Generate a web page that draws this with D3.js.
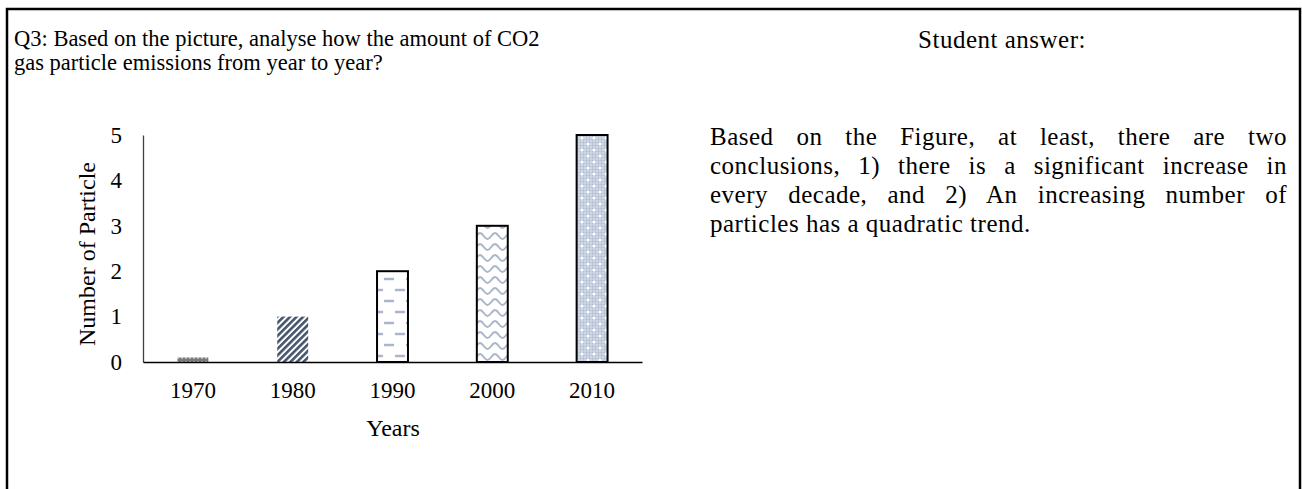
<!DOCTYPE html>
<html>
<head>
<meta charset="utf-8">
<script src="https://cdn.jsdelivr.net/npm/d3@7"></script>
<style>
  body { margin: 0; background: #fff; }
  svg { display: block; }
</style>
</head>
<body>
<svg id="viz"></svg>
<script>
// values
var years = ["1970", "1980", "1990", "2000", "2010"];
var particles = [0.1, 1, 2, 3, 5];
var yTicks = [0, 1, 2, 3, 4, 5];

var questionLines = [
    "Q3: Based on the picture, analyse how the amount of CO2",
    "gas particle emissions from year to year?"
];
var answerTitle = "Student answer:";
var answerLines = [
    "Based on the Figure, at least, there are two",
    "conclusions, 1) there is a significant increase in",
    "every decade, and 2) An increasing number of",
    "particles has a quadratic trend."
];

function generateVisualization() {
    var width = 1302;
    var height = 489;
    var textFont = "'Liberation Serif', 'Times New Roman', serif";
    var patternBlue = "#a9b5c8";

    var svg = d3.select("#viz")
        .attr("width", width)
        .attr("height", height);

    // table frame (bottom edge is cut off in the picture)
    svg.append("path")
        .attr("d", "M7," + height + " V9 H1300 V" + height)
        .attr("fill", "none")
        .attr("stroke", "#000")
        .attr("stroke-width", 2.5);

    // question text
    svg.append("g")
        .selectAll("text")
        .data(questionLines)
        .enter()
        .append("text")
        .attr("x", 14)
        .attr("y", (d, i) => 46 + i * 24)
        .attr("font-family", textFont)
        .attr("font-size", 22.5)
        .text(d => d);

    svg.append("text")
        .attr("x", 1002)
        .attr("y", 48)
        .attr("text-anchor", "middle")
        .attr("font-family", textFont)
        .attr("font-size", 25)
        .attr("letter-spacing", 0.5)
        .text(answerTitle);

    // justified answer paragraph: spread the words, not the letters
    var left = 710, right = 1287;
    svg.append("g")
        .selectAll("text")
        .data(answerLines)
        .enter()
        .append("text")
        .attr("x", left)
        .attr("y", (d, i) => 145 + i * 29)
        .attr("font-family", textFont)
        .attr("font-size", 25)
        .attr("letter-spacing", 0.5)
        .text(d => d)
        .each(function (d, i) {
            if (i === answerLines.length - 1) return;
            var gaps = d.split(" ").length - 1;
            var extra = (right - left) - this.getComputedTextLength();
            d3.select(this).attr("word-spacing", extra / gaps);
        });

    // ---- patterns for the bars ----
    var defs = svg.append("defs");

    // 1970: grey with light dots
    var p1 = defs.append("pattern").attr("id", "pat1970")
        .attr("patternUnits", "userSpaceOnUse").attr("width", 4).attr("height", 4);
    p1.append("rect").attr("width", 4).attr("height", 4).attr("fill", "#7a7a7a");
    p1.append("circle").attr("cx", 2).attr("cy", 2).attr("r", 0.9).attr("fill", "#cfcfcf");

    // 1980: dark diagonal stripes
    var p2 = defs.append("pattern").attr("id", "pat1980")
        .attr("patternUnits", "userSpaceOnUse").attr("width", 4.6).attr("height", 8)
        .attr("patternTransform", "rotate(45)");
    p2.append("rect").attr("width", 4.6).attr("height", 8).attr("fill", "#ffffff");
    p2.append("rect").attr("width", 2.6).attr("height", 8).attr("fill", "#44546a");

    // 1990: staggered short dashes
    var p3 = defs.append("pattern").attr("id", "pat1990")
        .attr("patternUnits", "userSpaceOnUse").attr("width", 22).attr("height", 22);
    p3.append("rect").attr("width", 22).attr("height", 22).attr("fill", "#ffffff");
    p3.append("line").attr("x1", 11).attr("x2", 19).attr("y1", 15).attr("y2", 15);
    p3.append("line").attr("x1", 22).attr("x2", 30).attr("y1", 4).attr("y2", 4);
    p3.append("line").attr("x1", 0).attr("x2", 8).attr("y1", 4).attr("y2", 4);
    p3.selectAll("line")
        .attr("stroke", patternBlue).attr("stroke-width", 2.4).attr("stroke-linecap", "round");

    // 2000: wavy lines
    var p4 = defs.append("pattern").attr("id", "pat2000")
        .attr("patternUnits", "userSpaceOnUse").attr("width", 15).attr("height", 11);
    p4.append("rect").attr("width", 15).attr("height", 11).attr("fill", "#ffffff");
    p4.append("path")
        .attr("d", "M0,2 C3,2 4.5,8 7.5,8 C10.5,8 12,2 15,2")
        .attr("fill", "none").attr("stroke", patternBlue).attr("stroke-width", 2);

    // 2010: fine dotted blue-grey with white sparkles
    var p5 = defs.append("pattern").attr("id", "pat2010")
        .attr("patternUnits", "userSpaceOnUse").attr("width", 12).attr("height", 12);
    p5.append("rect").attr("width", 12).attr("height", 12).attr("fill", "#d0d8e6");
    [1.5, 4.5, 7.5, 10.5].forEach(function (a) {
        [1.5, 4.5, 7.5, 10.5].forEach(function (b) {
            p5.append("circle").attr("cx", a).attr("cy", b).attr("r", 0.9).attr("fill", "#abb7cd");
        });
    });
    [[6, 6], [0, 0], [12, 0], [0, 12], [12, 12]].forEach(function (c) {
        p5.append("circle").attr("cx", c[0]).attr("cy", c[1]).attr("r", 1.6).attr("fill", "#ffffff");
    });

    var bordered = { "1970": false, "1980": false, "1990": true, "2000": true, "2010": true };

    // ---- chart ----
    var x = d3.scaleBand()
        .domain(years)
        .range([143, 642])
        .paddingInner(0.69)
        .paddingOuter(0.345);

    var y = d3.scaleLinear()
        .domain([0, 5])
        .range([362, 135]);

    var chart = svg.append("g");

    chart.selectAll(".bar")
        .data(years)
        .enter()
        .append("rect")
        .attr("class", "bar")
        .attr("x", d => x(d))
        .attr("y", (d, i) => y(particles[i]))
        .attr("width", x.bandwidth())
        .attr("height", (d, i) => y(0) - y(particles[i]))
        .attr("fill", d => "url(#pat" + d + ")")
        .attr("stroke", d => bordered[d] ? "#000" : "none")
        .attr("stroke-width", 2);

    var yAxis = chart.append("g")
        .attr("transform", "translate(143,0)")
        .call(d3.axisLeft(y).tickValues(yTicks).tickFormat(d3.format("d"))
            .tickSize(0).tickPadding(21));
    yAxis.select(".domain").attr("stroke", "#404040").attr("stroke-width", 1.3);
    yAxis.selectAll("text")
        .attr("font-family", textFont)
        .attr("font-size", 23)
        .attr("fill", "#000");

    var xAxis = chart.append("g")
        .attr("transform", "translate(0,362)")
        .call(d3.axisBottom(x).tickSize(0).tickPadding(20));
    xAxis.select(".domain").attr("stroke", "#000").attr("stroke-width", 1.5);
    xAxis.selectAll("text")
        .attr("font-family", textFont)
        .attr("font-size", 23)
        .attr("fill", "#000");

    chart.append("text")
        .attr("transform", "translate(95,254) rotate(-90)")
        .attr("text-anchor", "middle")
        .attr("font-family", textFont)
        .attr("font-size", 24)
        .text("Number of Particle");

    chart.append("text")
        .attr("x", 393)
        .attr("y", 436)
        .attr("text-anchor", "middle")
        .attr("font-family", textFont)
        .attr("font-size", 24)
        .text("Years");
}

generateVisualization();
</script>
</body>
</html>
